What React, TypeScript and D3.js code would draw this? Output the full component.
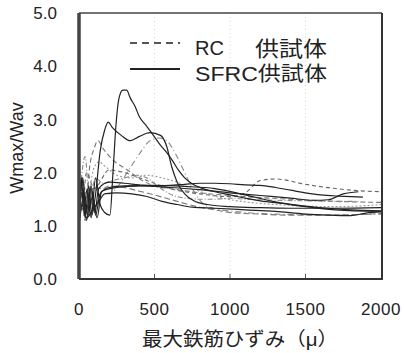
import React from "react";
import * as d3 from "d3";

// Crack width ratio Wmax/Wav against maximum rebar strain (μ)
type Pt = [number, number];

const xTicks = [0, 500, 1000, 1500, 2000];
const yTicks = [0, 1, 2, 3, 4, 5];

// SFRC specimens (solid)
const sfrcA: Pt[] = [[0, 4.1], [6, 1.5], [15, 1.9], [30, 1.3], [55, 1.7], [80, 1.15], [110, 1.9], [140, 1.4], [170, 1.25], [205, 1.2], [225, 2.0], [245, 2.9], [265, 3.4], [290, 3.55], [315, 3.55], [340, 3.4], [370, 3.25], [400, 3.05], [440, 2.9], [480, 2.75], [530, 2.55], [580, 2.38], [620, 2.22], [660, 2.04], [700, 1.9], [760, 1.77], [820, 1.7], [900, 1.64], [1000, 1.58], [1100, 1.52], [1200, 1.47], [1350, 1.42], [1500, 1.37], [1650, 1.33], [1800, 1.3], [2000, 1.28]];
const sfrcB: Pt[] = [[0, 1.2], [20, 1.9], [40, 1.15], [65, 1.75], [85, 1.2], [110, 1.6], [140, 2.4], [170, 2.8], [193, 2.95], [220, 2.85], [280, 2.7], [340, 2.6], [400, 2.68], [470, 2.75], [540, 2.7], [580, 2.5], [615, 2.1], [650, 1.82], [700, 1.6], [760, 1.47], [850, 1.4], [1000, 1.36], [1200, 1.34], [1400, 1.33], [1700, 1.33], [2000, 1.34]];
const sfrcC: Pt[] = [[0, 1.3], [25, 1.9], [50, 1.1], [80, 1.7], [105, 1.25], [130, 1.7], [200, 1.82], [300, 1.8], [400, 1.77], [500, 1.75], [600, 1.76], [700, 1.78], [800, 1.8], [900, 1.8], [1000, 1.79], [1100, 1.77], [1200, 1.76], [1300, 1.72], [1400, 1.67], [1500, 1.62], [1600, 1.58], [1700, 1.56], [1800, 1.55], [1880, 1.54]];
const sfrcD: Pt[] = [[0, 1.0], [30, 1.5], [60, 1.2], [90, 1.55], [120, 1.15], [150, 1.65], [250, 1.72], [400, 1.75], [600, 1.72], [800, 1.68], [1000, 1.62], [1200, 1.57], [1400, 1.52], [1550, 1.48], [1650, 1.49], [1750, 1.6], [1850, 1.64]];
const sfrcE: Pt[] = [[0, 1.05], [20, 1.4], [50, 1.15], [90, 1.3], [130, 1.45], [170, 1.6], [250, 1.62], [350, 1.6], [450, 1.55], [550, 1.46], [650, 1.4], [750, 1.35], [900, 1.33], [1100, 1.3], [1300, 1.27], [1500, 1.22], [1650, 1.2], [1800, 1.19], [1900, 1.24], [2000, 1.26]];
const sfrcF: Pt[] = [[0, 1.1], [25, 1.7], [50, 1.3], [80, 1.75], [110, 1.2], [140, 1.6], [200, 1.72], [300, 1.75], [500, 1.76], [700, 1.74], [900, 1.7], [1100, 1.58], [1300, 1.45], [1500, 1.36], [1700, 1.3], [2000, 1.27]];

// RC specimens (dashed)
const rcA: Pt[] = [[0, 1.2], [20, 1.7], [45, 1.3], [70, 2.1], [100, 2.45], [125, 2.6], [160, 2.45], [220, 2.25], [320, 2.05], [420, 1.85], [500, 1.75], [600, 1.7], [700, 1.66], [800, 1.62], [1000, 1.57], [1200, 1.53], [1400, 1.5], [1600, 1.47], [1800, 1.45], [2000, 1.44]];
const rcB: Pt[] = [[0, 1.1], [25, 1.5], [50, 1.2], [90, 1.6], [140, 1.7], [200, 1.6], [260, 1.75], [330, 2.05], [400, 2.35], [470, 2.6], [530, 2.65], [580, 2.6], [640, 2.35], [700, 2.0], [760, 1.65], [820, 1.42], [900, 1.32], [1000, 1.28], [1100, 1.25], [1300, 1.22], [1500, 1.21], [1700, 1.2], [1850, 1.21], [2000, 1.22]];
const rcC: Pt[] = [[0, 5.0], [4, 1.4], [20, 1.3], [50, 2.0], [100, 1.7], [200, 2.05], [300, 2.0], [450, 1.85], [600, 1.7], [800, 1.6], [1000, 1.55], [1100, 1.62], [1200, 1.85], [1300, 1.88], [1500, 1.78], [1700, 1.7], [1850, 1.66], [2000, 1.64]];
const rcD: Pt[] = [[0, 1.15], [30, 1.8], [60, 1.4], [90, 2.0], [130, 2.2], [180, 2.1], [250, 1.95], [350, 1.9], [450, 1.95], [550, 1.9], [650, 1.82], [750, 1.7], [850, 1.6], [950, 1.52], [1100, 1.45], [1300, 1.4], [1500, 1.37], [1700, 1.36], [1900, 1.38], [2000, 1.4]];
const rcE: Pt[] = [[0, 1.0], [20, 1.4], [40, 1.1], [70, 1.5], [100, 1.35], [150, 1.65], [200, 1.75], [300, 1.72], [400, 1.65], [500, 1.58], [600, 1.5], [700, 1.42], [800, 1.35], [900, 1.3], [1000, 1.25], [1200, 1.22], [1400, 1.2], [1600, 1.2], [1800, 1.21], [2000, 1.23]];
const rcF: Pt[] = [[0, 1.3], [40, 2.3], [70, 1.5], [110, 1.9], [160, 1.8], [220, 1.85], [300, 1.9], [380, 1.95], [450, 1.9], [520, 1.75], [600, 1.6], [700, 1.52], [800, 1.5], [900, 1.5], [1000, 1.52], [1100, 1.5], [1300, 1.48], [1500, 1.47], [1700, 1.46], [1850, 1.46]];

const sfrcSeries = [sfrcA, sfrcB, sfrcC, sfrcD, sfrcE, sfrcF];
const rcSeries = [rcA, rcB, rcC, rcD, rcE, rcF];
const rcDash = ["5,3", "6,3,1,3", "4,3", "2,2", "6,3", "5,2,1,2"];
const rcColor = ["#777", "#888", "#666", "#999", "#777", "#888"];

const legendLabels = ["RC", "供試体", "SFRC供試体"];
const xTitle = "最大鉄筋ひずみ（μ）";
const yTitle = "Wmax/Wav";

const W = 404;
const H = 353;
const left = 79;
const right = 381;
const top = 13;
const bottom = 279;

export default function App() {
  const x = d3.scaleLinear().domain([0, 2000]).range([left, right]);
  const y = d3.scaleLinear().domain([0, 5]).range([bottom, top]);
  const line = d3
    .line<Pt>()
    .x((d) => x(d[0]))
    .y((d) => y(d[1]))
    .curve(d3.curveMonotoneX);
  const font = "'Liberation Sans', Arial, 'Noto Sans CJK JP', sans-serif";

  return (
    <svg
      width={W}
      height={H}
      style={{ position: "absolute", left: 0, top: 0, background: "#fff" }}
      fontFamily={font}
    >
      <rect x={0} y={0} width={W} height={H} fill="#fff" />
      {/* dotted vertical gridlines */}
      {xTicks.slice(1, -1).map((t) => (
        <line key={t} x1={x(t)} x2={x(t)} y1={top} y2={bottom} stroke="#ccc" strokeWidth={0.8} strokeDasharray="1,3" />
      ))}
      {/* inner tick marks on the bottom axis */}
      {xTicks.slice(1, -1).map((t) => (
        <line key={"tk" + t} x1={x(t)} x2={x(t)} y1={bottom} y2={bottom - 5} stroke="#555" strokeWidth={1} />
      ))}

      {/* RC specimens */}
      {rcSeries.map((s, i) => (
        <path key={"rc" + i} d={line(s) || ""} fill="none" stroke={rcColor[i]} strokeWidth={1.1} strokeDasharray={rcDash[i]} />
      ))}
      {/* SFRC specimens */}
      {sfrcSeries.map((s, i) => (
        <path key={"sf" + i} d={line(s) || ""} fill="none" stroke="#222" strokeWidth={1.2} />
      ))}

      {/* frame */}
      <line x1={left} x2={right + 1} y1={top} y2={top} stroke="#444" strokeWidth={1.6} />
      <line x1={right + 1} x2={right + 1} y1={top} y2={bottom} stroke="#333" strokeWidth={2} />
      <line x1={left} x2={right + 2} y1={bottom} y2={bottom} stroke="#333" strokeWidth={2.2} />
      <line x1={left} x2={left} y1={top} y2={bottom} stroke="#444" strokeWidth={3.5} />

      {/* axis labels */}
      {yTicks.map((t) => (
        <text key={"y" + t} x={57} y={y(t)} dy="0.36em" textAnchor="end" fontSize={17} fill="#222">
          {t.toFixed(1)}
        </text>
      ))}
      {xTicks.map((t) => (
        <text key={"x" + t} x={x(t)} y={315} textAnchor="middle" fontSize={17} fill="#222" letterSpacing={0.5}>
          {t}
        </text>
      ))}
      <text transform={`translate(23,148) rotate(-90)`} textAnchor="middle" fontSize={18} fill="#222">
        {yTitle}
      </text>
      <text x={240} y={346} textAnchor="middle" fontSize={19} fill="#222" textLength={196} lengthAdjust="spacingAndGlyphs">
        {xTitle}
      </text>

      {/* legend */}
      <line x1={130} x2={180} y1={43} y2={43} stroke="#555" strokeWidth={2} strokeDasharray="7,5" />
      <line x1={130} x2={180} y1={69} y2={69} stroke="#222" strokeWidth={2} />
      <text x={195} y={55} fontSize={20} fill="#222">{legendLabels[0]}</text>
      <text x={255} y={56} fontSize={21} fill="#222" textLength={72} lengthAdjust="spacingAndGlyphs">{legendLabels[1]}</text>
      <text x={195} y={81} fontSize={20} fill="#222" textLength={132} lengthAdjust="spacingAndGlyphs">{legendLabels[2]}</text>
    </svg>
  );
}
